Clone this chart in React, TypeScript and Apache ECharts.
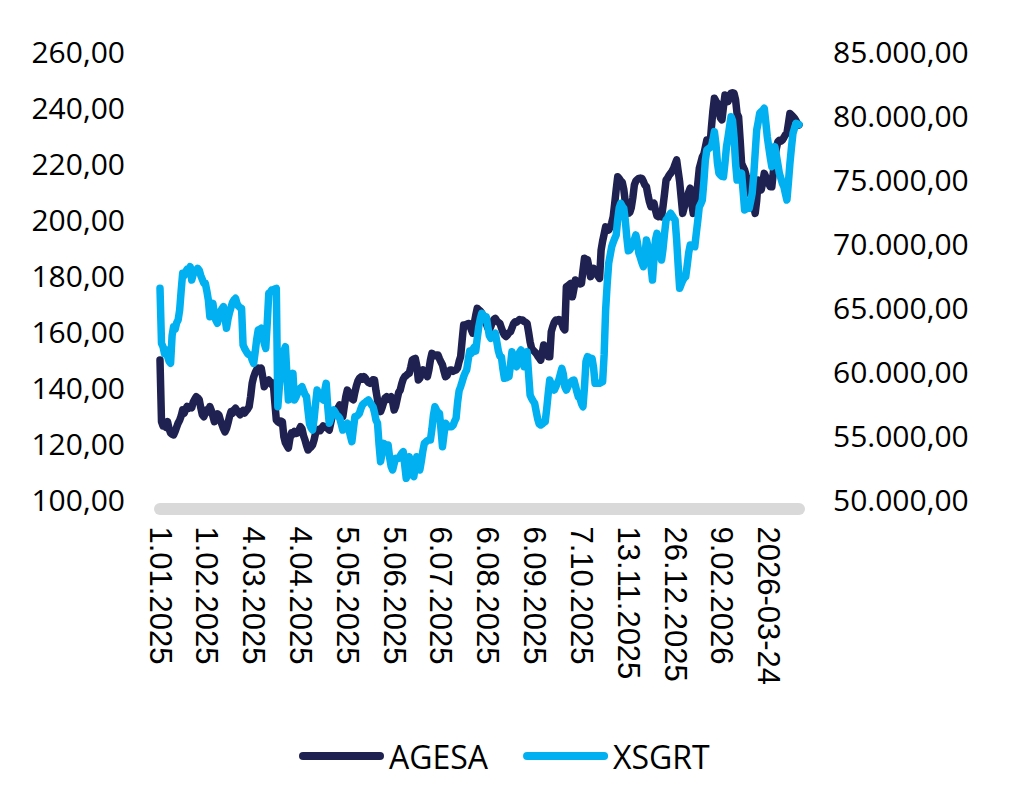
import React, { useEffect, useRef } from "react";
import * as echarts from "echarts";

// Tick dates shown on the category axis (one every 31 points)
const TICK_DATES = [
  "2025-01-01", "2025-02-01", "2025-03-04", "2025-04-04", "2025-05-05",
  "2025-06-05", "2025-07-06", "2025-08-06", "2025-09-06", "2025-10-07",
  "2025-11-13", "2025-12-26", "2026-02-09", "2026-03-24",
];
const TICK_STEP = 31;

const AGESA = [
  153, 131, 129.5, 130.5, 129, 131, 128.5, 127, 126.5, 126.3,
  127.5, 129, 130.5, 131.5, 133, 135.2, 134, 135.5, 136.5, 135.8,
  136.3, 136, 138, 139, 139.9, 139.5, 138.8, 136, 133.5, 132.8,
  134, 135.2, 134.5, 136.4, 135, 133, 131, 132, 133.8, 133.4,
  131.5, 130, 128.5, 127.4, 128.5, 130.5, 132.8, 134.6, 134, 135.2,
  135.8, 135, 134.2, 133.5, 134.5, 135, 134.1, 134.8, 135.5, 136.4,
  140, 144.7, 147, 148.5, 149.6, 150.1, 149.5, 150.1, 147, 143.5,
  144.5, 145.5, 145.9, 145.2, 144.2, 144.7, 138, 131.6, 131, 130.6,
  131.2, 131, 125.6, 123.5, 122.5, 121.6, 125, 127, 126.5, 127.5,
  126.8, 127, 128, 129.2, 128.5, 126, 124.5, 122.5, 120.9, 121.5,
  122, 122.7, 124.5, 126.9, 127.5, 128.2, 127.8, 128.6, 129.5, 129,
  129.2, 128.6, 128, 130.5, 133, 134.5, 133.8, 135.2, 136, 137,
  134.5, 132.8, 136.5, 140, 142.3, 141.5, 140, 139.2, 138.8, 141.5,
  143.8, 145.5, 146.5, 147, 146.2, 147.1, 146.5, 145.6, 145, 144.7,
  145.3, 146, 145.9, 142, 138.8, 136, 134.6, 136, 137.8, 139.5,
  139.9, 139, 139.5, 139.9, 138, 135.2, 136.5, 139, 141.5, 142.3,
  144.5, 146.2, 147.1, 147.5, 148, 148.3, 150.5, 153, 153.4, 153.6,
  151, 145.9, 146.5, 148, 149.5, 149, 148.2, 147.1, 149.5, 153,
  155.4, 155, 154.6, 154.8, 154.8, 153.5, 152.3, 151.3, 149, 147.1,
  147.5, 148.6, 149.5, 149.5, 149, 149.3, 149.5, 150.2, 152.5, 154.2,
  160, 165.5, 165, 165.8, 166.1, 166, 164, 162.6, 166, 169,
  171.5, 171, 170.5, 169.8, 168.5, 168.5, 166, 164.5, 163.8, 165,
  166.5, 167.5, 167.9, 167, 166.5, 166.1, 164.5, 163, 162, 161.4,
  162, 162.8, 163.1, 164.5, 166, 166.7, 166.5, 167, 167.5, 167.3,
  167.3, 166.8, 166.5, 166.1, 163, 159.5, 157.2, 156.5, 156, 155.4,
  154.5, 153.8, 153, 155.5, 158.4, 157.5, 156, 154.2, 154.2, 163.1,
  165, 166.5, 167.3, 167, 167.5, 167.3, 166, 164.5, 163.8, 179.2,
  179.5, 180, 180.4, 175.6, 178.5, 181.6, 181, 180.6, 180.2, 180.4,
  185, 189.4, 189, 188.8, 186, 182.8, 184, 185.8, 185, 184,
  183, 182.2, 192.3, 195.5, 198, 200.6, 200, 199.5, 200.5, 202,
  204.2, 209, 214, 218.5, 217.8, 217, 216.5, 214, 209.5, 206.6,
  205.4, 205.8, 207.5, 211, 215.5, 217, 217.5, 217.9, 218, 217.9,
  216.8, 215.5, 214.9, 212, 209.5, 207.8, 208.5, 209, 206.5, 204.5,
  204.2, 204.6, 204.2, 208, 212.5, 217.3, 218, 219, 219.7, 220.5,
  221.5, 223, 224.5, 220.5, 216.7, 211, 205.4, 207.5, 209.5, 211,
  213, 214.4, 209, 205.4, 207.5, 210.2, 216, 221.5, 223.5, 225.6,
  226.5, 229, 231.6, 230.5, 229.2, 236, 242, 246.5, 245.5, 244.7,
  242, 239.5, 238.8, 243.5, 247.7, 246.5, 245.3, 247, 248.3, 248.5,
  248.3, 246, 241, 239.9, 232, 223.3, 222, 220.9, 219, 217.3,
  214, 212, 211.4, 208, 205.4, 210, 217.3, 215.5, 213.8, 216.5,
  219.7, 218.5, 217.3, 216, 214.9, 214.9, 220, 225.6, 228.5, 231,
  231.5, 231.2, 231.6, 232.5, 233.5, 234, 237.5, 241.1, 240.5, 240,
  239.4, 238.5, 237.5, 237,
];

const XSGRT = [
  67200, 62900, 62640, 62100, 62400, 61900, 61500, 61340, 63500, 64200,
  64000, 64500, 64730, 65500, 67000, 68375, 68200, 68500, 68700, 68600,
  68890, 67850, 68300, 68600, 68500, 68765, 68600, 68200, 67900, 67600,
  67590, 67000, 66290, 64985, 65500, 66030, 65200, 64700, 64470, 65000,
  65400, 65600, 65770, 64900, 64080, 64800, 65300, 65700, 66100, 66300,
  66420, 66000, 65800, 65700, 65640, 62770, 62500, 62300, 62100, 62000,
  61990, 61600, 61340, 62200, 63200, 63945, 64000, 64080, 63600, 62900,
  62515, 64500, 66810, 66900, 67070, 67100, 67150, 67200, 57950, 59500,
  60800, 61800, 62300, 62640, 60500, 58480, 59000, 59800, 60560, 58480,
  58700, 59000, 59300, 59400, 59515, 59200, 58900, 58730, 57600, 56600,
  56300, 56130, 57000, 58200, 59260, 59000, 58700, 58600, 58480, 59200,
  59780, 58000, 56660, 57000, 57400, 57700, 57500, 57300, 57200, 57050,
  56600, 56130, 56300, 56500, 56660, 56200, 55700, 55220, 56200, 57170,
  57200, 57300, 57440, 57800, 58100, 58220, 58300, 58400, 58480, 58300,
  58100, 57950, 57500, 56900, 56660, 55000, 53660, 54300, 55090, 55000,
  54970, 54960, 54000, 53300, 53010, 53500, 53920, 53900, 53920, 54100,
  54300, 54440, 53400, 52360, 53200, 54050, 53300, 52600, 52490, 53300,
  54050, 53600, 53010, 53700, 54500, 55090, 55200, 55300, 55350, 55350,
  56200, 57300, 57950, 57700, 57500, 57440, 56200, 54830, 55800, 56660,
  56500, 56400, 56390, 56390, 56500, 56800, 57050, 58300, 59200, 59515,
  59900, 60300, 60600, 60820, 61600, 62300, 62100, 62400, 62600, 62300,
  63300, 64200, 64800, 65250, 65100, 65000, 64985, 64200, 63500, 63300,
  63500, 63600, 63690, 63000, 62300, 61900, 61860, 60900, 60170, 60200,
  60250, 60300, 61200, 62250, 61600, 61200, 61080, 61600, 62200, 62380,
  61600, 61080, 61700, 62250, 60500, 58870, 58600, 58400, 58220, 57600,
  57000, 56600, 56520, 56600, 56700, 56780, 57800, 59000, 60040, 59700,
  59400, 59260, 59500, 59800, 60040, 60500, 60950, 60500, 59500, 59260,
  59500, 59780, 59900, 60000, 60040, 59600, 59100, 58700, 58610, 58200,
  57950, 59500, 61500, 61860, 61800, 61750, 61730, 61000, 59780, 59780,
  59780, 59780, 59850, 59900, 62000, 65510, 67500, 69150, 69800, 70450,
  70800, 71100, 71370, 72600, 73500, 73840, 73600, 73450, 72540, 71200,
  70130, 70200, 70400, 70650, 71000, 71370, 70800, 69940, 69600, 69200,
  68890, 69800, 70980, 70500, 69940, 69000, 67850, 69500, 71000, 71500,
  70700, 70000, 69410, 70300, 71500, 72540, 72700, 72900, 73060, 72900,
  72700, 72540, 71000, 69000, 67200, 67500, 67800, 68000, 68110, 69000,
  70000, 70590, 70500, 70480, 70450, 71500, 72500, 73580, 73800, 74100,
  75500, 77200, 78010, 78100, 78200, 78270, 78800, 79440, 78500, 77000,
  76190, 76050, 75950, 75920, 77000, 78270, 79000, 79800, 80610, 80300,
  79000, 77000, 75660, 75800, 76000, 76190, 74800, 73320, 73400, 73450,
  73450, 74000, 74630, 76000, 77800, 79570, 80200, 80880, 81000, 81100,
  81270, 80200, 79050, 78200, 77400, 76700, 77500, 78270, 77600, 76900,
  76190, 75800, 75400, 75140, 74600, 74100, 75500, 76970, 78200, 79310,
  79700, 80090, 80050, 80000,
];

const DAY = 86400000;
function toUTC(s: string) {
  const [y, m, d] = s.split("-").map(Number);
  return Date.UTC(y, m - 1, d);
}
function pad(n: number) {
  return n < 10 ? "0" + n : "" + n;
}
function buildCategories(n: number): string[] {
  const out: string[] = [];
  const last = TICK_DATES.length - 1;
  for (let i = 0; i < n; i++) {
    const b = Math.min(Math.floor(i / TICK_STEP), last);
    const k = i - b * TICK_STEP;
    const start = toUTC(TICK_DATES[b]);
    const end = b < last ? toUTC(TICK_DATES[b + 1]) : start + 43 * DAY;
    const t = start + Math.round((k * (end - start)) / DAY / TICK_STEP) * DAY;
    const dt = new Date(t);
    const y = dt.getUTCFullYear();
    const mo = dt.getUTCMonth() + 1;
    const d = dt.getUTCDate();
    out.push(
      i >= last * TICK_STEP ? `${y}-${pad(mo)}-${pad(d)}` : `${d}.${pad(mo)}.${y}`
    );
  }
  return out;
}
const CATEGORIES = buildCategories(AGESA.length);

function fmtLeft(v: number) {
  return v.toFixed(2).replace(".", ",");
}
function fmtRight(v: number) {
  return Math.round(v).toString().replace(/\B(?=(\d{3})+(?!\d))/g, ".") + ",00";
}

const DARK = "#1F2150";
const LIGHT = "#00B0F0";
const LEGEND_ICON = "path://M4,0H81A4,4,0,0,1,81,8H4A4,4,0,0,1,4,0Z";

export default function App() {
  const ref = useRef<HTMLDivElement>(null);
  useEffect(() => {
    document.body.style.margin = "0";
    if (!ref.current) return;
    const chart = echarts.init(ref.current, undefined, { renderer: "svg" });
    const yLabel = {
      fontFamily: "Open Sans",
      fontSize: 30,
      color: "#000",
      verticalAlign: "bottom",
      lineHeight: 18,
    };
    chart.setOption({
      animation: false,
      backgroundColor: "#fff",
      grid: { left: 160, right: 217, top: 60.5, bottom: 287.5, containLabel: false },
      legend: {
        data: ["AGESA", "XSGRT"],
        left: 294,
        top: 735,
        icon: LEGEND_ICON,
        itemWidth: 85,
        itemHeight: 8,
        itemGap: 35,
        textStyle: { fontFamily: "Open Sans", fontSize: 32, color: "#000" },
      },
      xAxis: {
        type: "category",
        data: CATEGORIES,
        boundaryGap: false,
        axisLine: { show: true, lineStyle: { color: "#D9D9D9", width: 12 } },
        axisTick: { show: false },
        splitLine: { show: false },
        axisLabel: {
          interval: TICK_STEP - 1,
          rotate: -90,
          margin: 18,
          fontFamily: "Liberation Sans",
          fontSize: 31,
          color: "#000",
        },
      },
      yAxis: [
        {
          type: "value",
          position: "left",
          min: 100,
          max: 260,
          interval: 20,
          axisLine: { show: false },
          axisTick: { show: false },
          splitLine: { show: false },
          axisLabel: { ...yLabel, margin: 35, formatter: fmtLeft },
        },
        {
          type: "value",
          position: "right",
          min: 50000,
          max: 85000,
          interval: 5000,
          axisLine: { show: false },
          axisTick: { show: false },
          splitLine: { show: false },
          axisLabel: { ...yLabel, margin: 34, formatter: fmtRight },
        },
      ],
      series: [
        {
          name: "AGESA",
          type: "line",
          yAxisIndex: 0,
          data: AGESA,
          showSymbol: false,
          symbol: "none",
          color: DARK,
          lineStyle: { color: DARK, width: 7.5, cap: "round", join: "round" },
        },
        {
          name: "XSGRT",
          type: "line",
          yAxisIndex: 1,
          data: XSGRT,
          showSymbol: false,
          symbol: "none",
          color: LIGHT,
          lineStyle: { color: LIGHT, width: 7.5, cap: "round", join: "round" },
        },
      ],
    });
    return () => chart.dispose();
  }, []);
  return <div ref={ref} style={{ width: 1016, height: 796 }} />;
}
